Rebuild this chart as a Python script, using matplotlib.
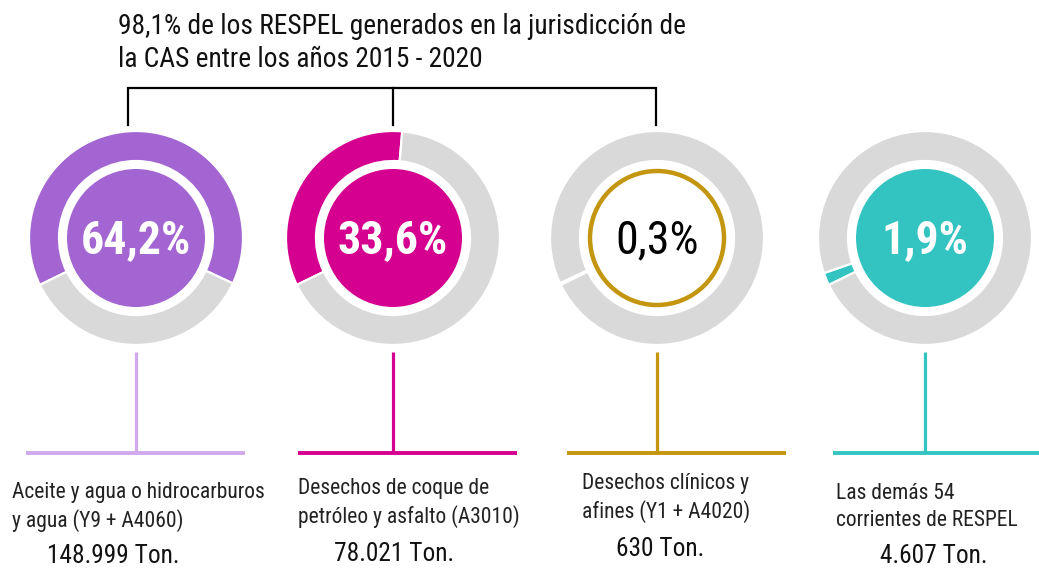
import matplotlib
matplotlib.use("Agg")
import matplotlib.pyplot as plt
from matplotlib.patches import Circle

# ---------------- data ----------------
categories = [
    "Aceite y agua o hidrocarburos\ny agua (Y9 + A4060)",
    "Desechos de coque de\npetróleo y asfalto (A3010)",
    "Desechos clínicos y\nafines (Y1 + A4020)",
    "Las demás 54\ncorrientes de RESPEL",
]
percentages = [64.2, 33.6, 0.3, 1.9]
pct_labels = ["64,2%", "33,6%", "0,3%", "1,9%"]
tonnes_labels = ["148.999 Ton.", "78.021 Ton.", "630 Ton.", "4.607 Ton."]
title_text = ("98,1% de los RESPEL generados en la jurisdicción de\n"
              "la CAS entre los años 2015 - 2020")

# ---------------- style / layout ----------------
colors = ["#a265d1", "#d5008f", "#c4950e", "#33c4c2"]
stem_colors = ["#cfa9ec", "#d5008f", "#c4950e", "#33c4c2"]
gray = "#d9d9d9"
W, H = 1039, 569
FONT = ["Roboto Condensed", "Liberation Sans", "DejaVu Sans"]

centers_x = [136, 393, 657, 925]
center_y_px = 238
R_out, ring_w, R_in = 107, 30, 69
stem_top, stem_bot = 352, 453
hbar = [(26, 245), (298, 517), (567, 786), (833, 1039)]
label_x = [12, 298, 582, 836]
label_y = [507, 503, 498, 507]
ton_x = [113, 394, 660, 934]
ton_y = [556, 554, 549, 556]

fig = plt.figure(figsize=(W / 100, H / 100), dpi=100)
ax = fig.add_axes([0, 0, 1, 1])


def Y(py):
    return H - py


for i, p in enumerate(percentages):
    cx, cy = centers_x[i], Y(center_y_px)
    ax.pie([p, 100 - p], colors=[colors[i], gray], radius=R_out,
           center=(cx, cy), startangle=206, counterclock=False,
           wedgeprops=dict(width=ring_w, edgecolor="white", linewidth=1.6))
    if i == 2:
        ax.add_patch(Circle((cx, cy), R_in - 2, facecolor="white",
                            edgecolor=colors[i], linewidth=3.2, zorder=3))
        ax.text(cx, cy - 2, pct_labels[i], ha="center", va="center",
                fontsize=33, color="black", family=FONT, zorder=4)
    else:
        ax.add_patch(Circle((cx, cy), R_in, facecolor=colors[i],
                            edgecolor="none", zorder=3))
        ax.text(cx, cy - 2, pct_labels[i], ha="center", va="center",
                fontsize=33, color="white", fontweight="bold",
                family=FONT, zorder=4)
    # stems
    ax.plot([cx, cx], [Y(stem_top), Y(stem_bot)], color=stem_colors[i],
            lw=2.3, solid_capstyle="butt")
    ax.plot(list(hbar[i]), [Y(stem_bot), Y(stem_bot)], color=stem_colors[i],
            lw=2.8, solid_capstyle="butt")
    ax.text(label_x[i], Y(label_y[i]), categories[i], ha="left", va="center",
            fontsize=15.5, color="#222222", family=FONT, linespacing=1.36)
    ax.text(ton_x[i], Y(ton_y[i]), tonnes_labels[i], ha="center",
            va="center", fontsize=18.3, color="#111111", family=FONT)

# bracket
bx = [128, 393, 656]
ax.plot([bx[0], bx[0], bx[2], bx[2]], [Y(125), Y(88), Y(88), Y(125)],
        color="black", lw=1.6, solid_joinstyle="miter")
ax.plot([bx[1], bx[1]], [Y(88), Y(125)], color="black", lw=1.6)
ax.text(118, Y(43), title_text, ha="left", va="center", fontsize=19.7,
        color="#111111", family=FONT, linespacing=1.28)

ax.set_xlim(0, W)
ax.set_ylim(0, H)
ax.set_aspect("equal")
ax.axis("off")
fig.savefig("out.png", dpi=100)
